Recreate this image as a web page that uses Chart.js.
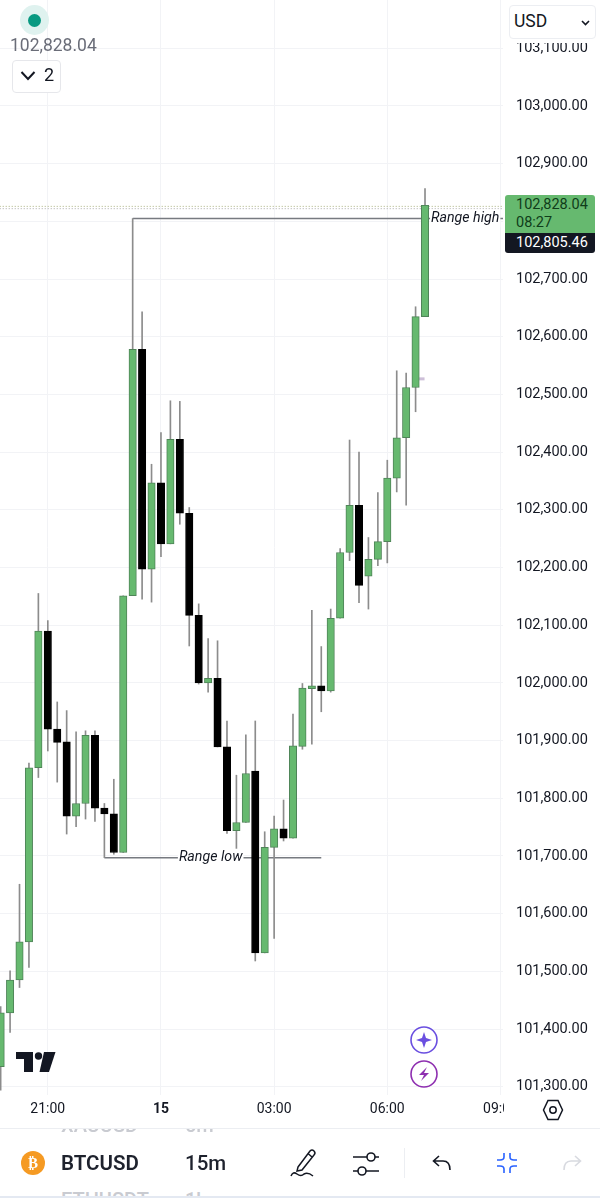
<!DOCTYPE html>
<html>
<head>
<meta charset="utf-8">
<title>BTCUSD 15m</title>
<script src="https://cdn.jsdelivr.net/npm/chart.js@4/dist/chart.umd.min.js"></script>
<style>
  html, body { margin: 0; padding: 0; background: #fff; }
  body { width: 600px; height: 1200px; position: relative; overflow: hidden; font-family: Roboto, sans-serif; color: #131722; }
  canvas { position: absolute; left: 0; top: 0; }
  .abs { position: absolute; }
  .tag { left: 505px; width: 90px; box-sizing: border-box; padding-left: 11px; font-size: 14.5px; }
  svg { position: absolute; overflow: visible; }
</style>
</head>
<body>
<canvas id="chart" width="600" height="1128"></canvas>

<!-- legende en haut a gauche -->
<div class="abs" style="left:20px;top:5px;width:29px;height:30px;border-radius:50%;background:#dff2ef"></div>
<div class="abs" style="left:28px;top:13.5px;width:13px;height:13px;border-radius:50%;background:#089981"></div>
<div class="abs" style="left:10px;top:35px;font-size:17.5px;line-height:20px;color:#6a6d78">102,828.04</div>
<div class="abs" style="left:12px;top:60px;width:47px;height:31px;border:1px solid #e6e7eb;border-radius:4px;background:#fff"></div>
<svg style="left:20px;top:70px" width="16" height="12"><path d="M1.5 2 L8 9 L14.5 2" fill="none" stroke="#131722" stroke-width="2"/></svg>
<div class="abs" style="left:44px;top:64px;font-size:18px;line-height:22px">2</div>

<!-- colonne des prix -->
<div class="abs" style="left:505px;top:0;width:95px;height:43px;background:#fff"></div>
<div class="abs" style="left:509px;top:5px;width:85px;height:32px;border:1px solid #eceef2;border-radius:4px;background:#fff"></div>
<div class="abs" style="left:514px;top:10px;font-size:17.5px;line-height:22px">USD</div>
<svg style="left:581px;top:20px" width="9" height="6"><path d="M1 1 L4.5 4.5 L8 1" fill="none" stroke="#131722" stroke-width="1.6"/></svg>
<div class="abs tag" style="top:195px;height:38px;background:#66b96f;color:#0f3d1a;border-radius:3px 3px 0 0;line-height:18px;padding-top:1px">102,828.04<br>08:27</div>
<div class="abs tag" style="top:233px;height:20px;background:#131722;color:#fff;line-height:19px;border-radius:0 0 3px 3px">102,805.46</div>

<!-- boutons violets -->
<svg style="left:410px;top:1026px" width="28" height="28">
  <circle cx="14" cy="14" r="13" fill="#fff" stroke="#6a4fe0" stroke-width="1.6"/>
  <path d="M14 6 L16 12 L22 14 L16 16 L14 22 L12 16 L6 14 L12 12 Z" fill="#6a4fe0"/>
</svg>
<svg style="left:410px;top:1060px" width="28" height="28">
  <circle cx="14" cy="14" r="13" fill="#fff" stroke="#8e2fb0" stroke-width="1.6"/>
  <path d="M17 7 L9 15 L14 15 L11 21 L19 13 L14 13 Z" fill="#8e2fb0"/>
</svg>

<!-- logo -->
<svg style="left:16px;top:1052px" width="41" height="21">
  <path d="M0 0 H17 V20 H8 V7 H0 Z" fill="#131722"/>
  <circle cx="22.5" cy="4" r="3.7" fill="#131722"/>
  <path d="M28 0 H39.5 L33 20 H23.5 Z" fill="#131722"/>
</svg>

<!-- coin bas droit de l'axe du temps -->
<div class="abs" style="left:504px;top:1095px;width:96px;height:33px;background:#fff"></div>
<svg style="left:543px;top:1099px" width="20" height="22">
  <path d="M5 1.5 H15 L19.5 11 L15 20.5 H5 L0.5 11 Z" fill="none" stroke="#131722" stroke-width="1.5"/>
  <circle cx="10" cy="11" r="3.2" fill="none" stroke="#131722" stroke-width="1.5"/>
</svg>

<!-- barre du bas -->
<div class="abs" style="left:0;top:1128px;width:600px;height:70px;overflow:hidden;border-top:1px solid #eceef2;border-bottom:2px solid #e4e9f2;box-sizing:border-box">
  <div class="abs" style="left:61px;top:-16px;font-size:20px;line-height:24px;font-weight:500;color:#c9cbd1">XAUUSD</div>
  <div class="abs" style="left:185px;top:-16px;font-size:20px;line-height:24px;font-weight:500;color:#c9cbd1">5m</div>
  <div class="abs" style="left:61px;top:59px;font-size:20px;line-height:24px;font-weight:500;color:#c9cbd1">ETHUSDT</div>
  <div class="abs" style="left:185px;top:59px;font-size:20px;line-height:24px;font-weight:500;color:#c9cbd1">1h</div>
</div>
<div class="abs" style="left:21px;top:1151px;width:24px;height:24px;border-radius:50%;background:#f59a23;color:#fff;text-align:center;font:bold 15px/24px 'DejaVu Sans'">₿</div>
<div class="abs" style="left:61px;top:1150px;font-size:20.5px;line-height:26px;font-weight:600;color:#1e222d">BTCUSD</div>
<div class="abs" style="left:185px;top:1150px;font-size:20.5px;line-height:26px;font-weight:500;color:#1e222d">15m</div>
<svg style="left:290px;top:1148px" width="28" height="30">
  <path d="M8 19 L20 3 Q22 1 24 3 Q26 5 24 7 L12 22 L7 23 Z M18 5.5 L22 9" fill="none" stroke="#131722" stroke-width="1.5"/>
  <path d="M1 28 Q3 23 7 26 Q11 29 14 26 Q18 24 23 28" fill="none" stroke="#131722" stroke-width="1.5"/>
</svg>
<svg style="left:352px;top:1151px" width="28" height="24">
  <path d="M1 6 H15 M23 6 H27 M1 20 H6 M14 20 H27" stroke="#131722" stroke-width="1.6" fill="none"/>
  <circle cx="19" cy="6" r="4" fill="none" stroke="#131722" stroke-width="1.6"/>
  <circle cx="10" cy="20" r="4" fill="none" stroke="#131722" stroke-width="1.6"/>
</svg>
<div class="abs" style="left:404px;top:1148px;width:1px;height:30px;background:#eceef2"></div>
<svg style="left:432px;top:1155px" width="20" height="16">
  <path d="M7 1 L1.5 6 L7 11 M1.5 6 H11 Q18 6 18 15" fill="none" stroke="#131722" stroke-width="1.6"/>
</svg>
<svg style="left:496px;top:1153px" width="22" height="21">
  <path d="M8 0 V4 Q8 7 4 7 H1 M14 0 V4 Q14 7 18 7 H21 M8 20 V16 Q8 13 4 13 H1 M14 20 V16 Q14 13 18 13 H21" fill="none" stroke="#2962ff" stroke-width="1.6"/>
</svg>
<svg style="left:562px;top:1155px" width="20" height="16">
  <path d="M13 1 L18.5 6 L13 11 M18.5 6 H9 Q2 6 2 15" fill="none" stroke="#d8dae0" stroke-width="1.6"/>
</svg>

<script>
// Bougies 15m, valeurs
const times = [
    '19:45', '20:00', '20:15', '20:30', '20:45', '21:00', '21:15', '21:30', '21:45', '22:00',
    '22:15', '22:30', '22:45', '23:00', '23:15', '23:30', '23:45', '00:00', '00:15', '00:30',
    '00:45', '01:00', '01:15', '01:30', '01:45', '02:00', '02:15', '02:30', '02:45', '03:00',
    '03:15', '03:30', '03:45', '04:00', '04:15', '04:30', '04:45', '05:00', '05:15', '05:30',
    '05:45', '06:00', '06:15', '06:30', '06:45', '07:00'
];
const opens = [
    101335, 101428, 101485, 101551, 101853, 102090, 101920, 101898, 101769, 101791,
    101909, 101783, 101773, 101706, 102151, 102578, 102197, 102347, 102241, 102422,
    102294, 102117, 102000, 102008, 101889, 101744, 101758, 101847, 101532, 101715,
    101747, 101731, 101890, 101990, 101995, 101986, 102112, 102226, 102308, 102185,
    102214, 102245, 102355, 102425, 102512, 102635
];
const highs = [
    101439, 101501, 101651, 101861, 102155, 102108, 101967, 101952, 101915, 101917,
    101917, 101791, 101833, 102151, 102805, 102643, 102379, 102434, 102489, 102488,
    102304, 102137, 102077, 102073, 101934, 101840, 101910, 101934, 101742, 101769,
    101797, 101946, 101999, 102126, 102063, 102128, 102233, 102421, 102400, 102252,
    102330, 102386, 102541, 102537, 102652, 102857
];
const lows = [
    101294, 101394, 101472, 101507, 101836, 101882, 101828, 101738, 101751, 101764,
    101760, 101697, 101703, 101706, 102151, 102145, 102140, 102219, 102241, 102275,
    102064, 101998, 101984, 101889, 101739, 101697, 101758, 101518, 101532, 101557,
    101726, 101731, 101885, 101894, 101950, 101984, 102112, 102212, 102139, 102128,
    102203, 102208, 102331, 102308, 102470, 102635
];
const closes = [
    101428, 101485, 101551, 101853, 102090, 101920, 101897, 101769, 101791, 101909,
    101783, 101773, 101706, 102151, 102578, 102197, 102347, 102241, 102422, 102294,
    102117, 102000, 102008, 101889, 101744, 101758, 101843, 101532, 101715, 101747,
    101731, 101891, 101991, 101995, 101986, 102112, 102226, 102308, 102169, 102214,
    102245, 102355, 102425, 102512, 102635, 102828
];

// Axe du temps
const tickIndexes = [5, 17, 29, 41, 53];
const tickLabels = ['21:00', '15', '03:00', '06:00', '09:00'];

// Axe des prix
const priceTicks = [
    103100, 103000, 102900, 102800, 102700, 102600, 102500, 102400, 102300, 102200,
    102100, 102000, 101900, 101800, 101700, 101600, 101500, 101400, 101300
];

// Traces horizontaux
const rangeHigh = 102805;
const rangeLow = 101697;
const priceLines = [102826, 102822];

const colors = {
    up: '#66b96f',
    upBorder: '#4f8458',
    down: '#000000',
    wick: '#8c8c8c',
    grid: '#f2f3f6',
    text: '#131722',
    drawing: '#777a80'
};

// Textes des traces, fond blanc pour couper la ligne
const rangeLabels = {
    id: 'rangeLabels',
    afterDatasetsDraw(chart) {
        const { ctx, scales } = chart;
        const items = [
            { text: 'Range high', x: 45.64, y: rangeHigh },
            { text: 'Range low', x: 18.9, y: rangeLow }
        ];
        ctx.save();
        ctx.font = 'italic 14.2px Roboto';
        ctx.textBaseline = 'middle';
        items.forEach(item => {
            const px = scales.x.getPixelForValue(item.x);
            const py = scales.y.getPixelForValue(item.y);
            const w = ctx.measureText(item.text).width;
            ctx.fillStyle = '#fff';
            ctx.fillRect(px - 1, py - 9, w + 2, 18);
            ctx.fillStyle = colors.text;
            ctx.fillText(item.text, px, py);
        });
        ctx.restore();
    }
};

// Lignes sous les bougies (order le plus haut = dessine en premier)
function flatLine(x1, x2, y, color, width, dash) {
    return {
        type: 'line',
        data: [{ x: x1, y: y }, { x: x2, y: y }],
        borderColor: color,
        borderWidth: width,
        borderDash: dash || [],
        pointRadius: 0,
        order: 3
    };
}

new Chart(document.getElementById('chart').getContext('2d'), {
    type: 'bar',
    data: {
        labels: times,
        datasets: [
            {
                // corps
                data: opens.map((o, i) => ({ x: i, y: [o, closes[i]] })),
                backgroundColor: closes.map((c, i) => c >= opens[i] ? colors.up : colors.down),
                borderColor: closes.map((c, i) => c >= opens[i] ? colors.upBorder : colors.down),
                borderWidth: 1,
                borderSkipped: false,
                barThickness: 7.4,
                grouped: false,
                order: 1
            },
            {
                // meches
                data: lows.map((l, i) => ({ x: i, y: [l, highs[i]] })),
                backgroundColor: colors.wick,
                barThickness: 1,
                grouped: false,
                order: 2
            },
            flatLine(14, 53.3, rangeHigh, colors.drawing, 1.5),
            flatLine(11, 34, rangeLow, colors.drawing, 1.5),
            flatLine(-0.1, 53.3, priceLines[0], '#a9b27f', 1, [1, 2]),
            flatLine(-0.1, 53.3, priceLines[1], '#a8a8a8', 1, [1, 2]),
            flatLine(44.35, 44.95, 102527, '#cdbfd8', 3)
        ]
    },
    options: {
        responsive: false,
        animation: false,
        layout: { padding: 0 },
        plugins: {
            legend: { display: false },
            tooltip: { enabled: false }
        },
        scales: {
            x: {
                type: 'linear',
                offset: false,
                min: -0.069,
                max: 53.27,
                afterBuildTicks: scale => {
                    scale.ticks = tickIndexes.map(v => ({ value: v }));
                },
                afterFit: scale => {
                    scale.height = 33;
                    scale.paddingLeft = 0;
                    scale.paddingRight = 0;
                },
                grid: { color: colors.grid, drawTicks: false, offset: false },
                border: { display: false },
                ticks: {
                    autoSkip: false,
                    maxRotation: 0,
                    padding: 6,
                    color: colors.text,
                    font: ctx => ({
                        family: 'Roboto',
                        size: 14,
                        weight: ctx.tick && ctx.tick.value === 17 ? 'bold' : 'normal'
                    }),
                    callback: value => tickLabels[tickIndexes.indexOf(value)]
                }
            },
            y: {
                position: 'right',
                min: 101285.7,
                max: 103183.7,
                afterBuildTicks: scale => {
                    scale.ticks = priceTicks.map(v => ({ value: v }));
                },
                afterFit: scale => {
                    scale.width = 97;
                    scale.paddingTop = 0;
                    scale.paddingBottom = 0;
                },
                grid: { color: colors.grid, drawTicks: false },
                border: { display: false },
                ticks: {
                    padding: 13,
                    color: colors.text,
                    font: { family: 'Roboto', size: 14.5 },
                    callback: value => value.toLocaleString('en-US', { minimumFractionDigits: 2, maximumFractionDigits: 2 })
                }
            }
        }
    },
    plugins: [rangeLabels]
});
</script>
</body>
</html>
